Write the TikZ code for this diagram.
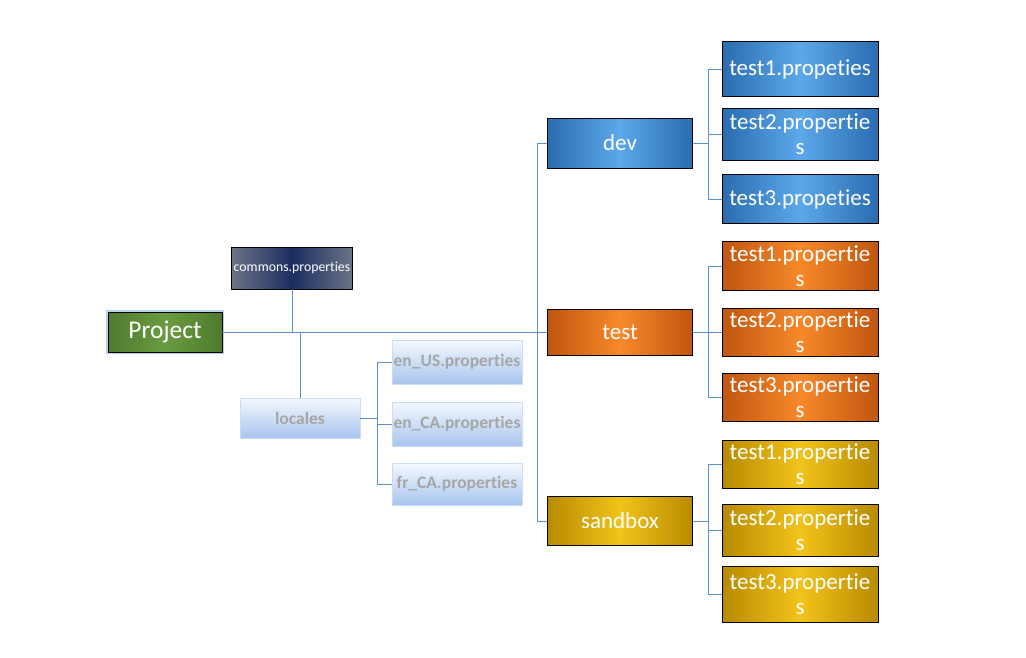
\documentclass[tikz,border=0pt]{standalone}
\usepackage{fontspec}
\setmainfont[Ligatures=NoCommon]{Carlito}
\usetikzlibrary{calc,shadings}
\definecolor{linec}{HTML}{5B8FD0}
\definecolor{blueD}{HTML}{2A6CB0}
\definecolor{blueM}{HTML}{5BA8EA}
\definecolor{orD}{HTML}{C0560F}
\definecolor{orM}{HTML}{F7892A}
\definecolor{goD}{HTML}{B88A00}
\definecolor{goM}{HTML}{F2C31A}
\definecolor{nvD}{HTML}{1B2E5E}
\definecolor{nvM}{HTML}{2D4F9E}
\definecolor{nvE}{HTML}{6B7386}
\definecolor{grD}{HTML}{4E7A2E}
\definecolor{grM}{HTML}{6A9B40}
\definecolor{locT}{HTML}{F4F8FE}
\definecolor{locB}{HTML}{A8C5EE}
\definecolor{locTxt}{HTML}{A6A6A6}
\tikzset{
  x=1pt, y=-1pt,
  conn/.style={draw=linec, line width=1pt},
  cbox/.style={draw=black, line width=0.8pt, text=white, align=center, inner sep=0pt},
  bluebox/.style={cbox, shading=axis, left color=blueD, right color=blueD, middle color=blueM},
  orbox/.style={cbox, shading=axis, left color=orD, right color=orD, middle color=orM},
  gobox/.style={cbox, shading=axis, left color=goD, right color=goD, middle color=goM},
  locbox/.style={draw=locB!60, line width=0.4pt, text=locTxt, align=center, inner sep=0pt,
     shading=axis, top color=locT, bottom color=locB, font=\fontsize{17.5}{19}\selectfont\bfseries},
  leaf/.style={minimum width=156pt, font=\fontsize{23}{25}\selectfont},
  mid/.style={minimum width=145pt, font=\fontsize{23}{25}\selectfont},
}
\begin{document}
\begin{tikzpicture}
\useasboundingbox[fill=white] (0,0) rectangle (1026,657);

% root
\node[cbox, shading=axis, left color=grD, right color=grD, middle color=grM,
      minimum width=114pt, minimum height=40pt, font=\fontsize{25.5}{28}\selectfont,
      preaction={draw=locB!80, line width=4pt}] (proj) at (165,332) {Project};
\node[cbox, shading=axis, left color=nvE, right color=nvE, middle color=nvD,
      minimum width=121pt, minimum height=42pt, font=\fontsize{13.8}{15}\selectfont] (comm) at (292,268) {commons.properties};
\node[locbox, minimum width=120pt, minimum height=40pt] (loc) at (300,418) {locales};
\node[locbox, minimum width=130pt, minimum height=44pt] (enus) at (457,362) {en\_US.properties};
\node[locbox, minimum width=130pt, minimum height=44pt] (enca) at (457,424) {en\_CA.properties};
\node[locbox, minimum width=130pt, minimum height=42pt] (frca) at (457,484) {fr\_CA.properties};

% environments
\node[bluebox, mid, minimum height=50pt] (dev) at (620,143) {dev};
\node[orbox, mid, minimum height=46pt] (test) at (620,332) {test};
\node[gobox, mid, minimum height=49pt] (sand) at (620,521) {sandbox};

% dev children
\node[bluebox, leaf, minimum height=55pt] (d1) at (800,69) {test1.propeties};
\node[bluebox, leaf, minimum height=52pt] (d2) at (800,134) {test2.propertie\\s};
\node[bluebox, leaf, minimum height=49pt] (d3) at (800,199) {test3.propeties};
% test children
\node[orbox, leaf, minimum height=49pt] (t1) at (800,266) {test1.propertie\\s};
\node[orbox, leaf, minimum height=48pt] (t2) at (800,332) {test2.propertie\\s};
\node[orbox, leaf, minimum height=48pt] (t3) at (800,397) {test3.propertie\\s};
% sandbox children
\node[gobox, leaf, minimum height=48pt] (s1) at (800,464) {test1.propertie\\s};
\node[gobox, leaf, minimum height=52pt] (s2) at (800,530) {test2.propertie\\s};
\node[gobox, leaf, minimum height=56pt] (s3) at (800,594) {test3.propertie\\s};

% bus coordinates
\coordinate (lbus) at (377,420);
\coordinate (mbus) at (537,332);
\coordinate (dbus) at (708,143);
\coordinate (tbus) at (708,332);
\coordinate (sbus) at (708,521);

% connectors
\draw[conn] (proj.east) -- (test.west);
\draw[conn] (comm.south) -- (comm.south |- proj.east);
\draw[conn] (loc.north) -- (loc.north |- proj.east);
\draw[conn] (loc.east) -- (loc.east -| lbus);
\draw[conn] (enus.west) -| (lbus);
\draw[conn] (frca.west) -| (lbus);
\draw[conn] (enca.west) -- (enca.west -| lbus);
\draw[conn] (dev.west) -| (mbus);
\draw[conn] (sand.west) -| (mbus);

\draw[conn] (dev.east) -- (dbus);
\draw[conn] (d1.west) -| (dbus);
\draw[conn] (d3.west) -| (dbus);
\draw[conn] (d2.west) -- (d2.west -| dbus);

\draw[conn] (test.east) -- (tbus);
\draw[conn] (t1.west) -| (tbus);
\draw[conn] (t3.west) -| (tbus);
\draw[conn] (t2.west) -- (tbus);

\draw[conn] (sand.east) -- (sbus);
\draw[conn] (s1.west) -| (sbus);
\draw[conn] (s3.west) -| (sbus);
\draw[conn] (s2.west) -- (s2.west -| sbus);
\end{tikzpicture}
\end{document}
